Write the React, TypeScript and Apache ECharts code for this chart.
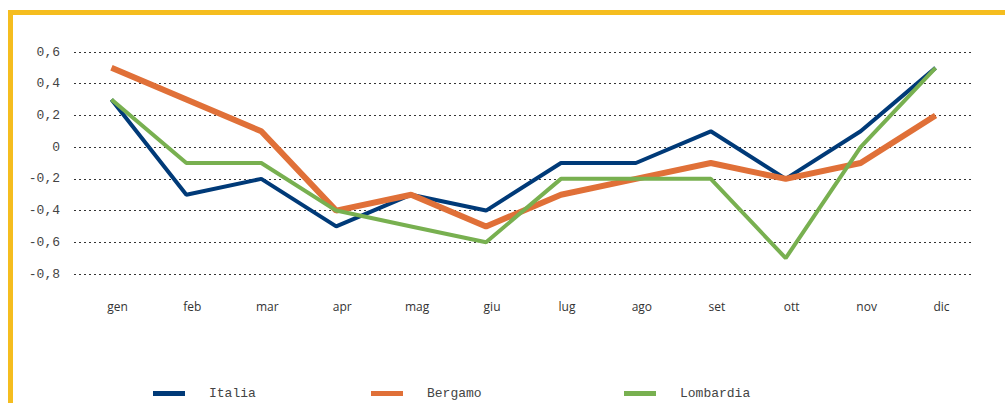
import React, { useEffect, useRef } from "react";
import * as echarts from "echarts";

const months = ["gen", "feb", "mar", "apr", "mag", "giu", "lug", "ago", "set", "ott", "nov", "dic"];
const italia = [0.3, -0.3, -0.2, -0.5, -0.3, -0.4, -0.1, -0.1, 0.1, -0.2, 0.1, 0.5];
const bergamo = [0.5, 0.3, 0.1, -0.4, -0.3, -0.5, -0.3, -0.2, -0.1, -0.2, -0.1, 0.2];
const lombardia = [0.3, -0.1, -0.1, -0.4, -0.5, -0.6, -0.2, -0.2, -0.2, -0.7, 0.0, 0.5];

const C_IT = "#003A78";
const C_BG = "#E07038";
const C_LO = "#78B050";
const YELLOW = "#F5BD1F";
const MONO = "'Liberation Mono', 'DejaVu Sans Mono', monospace";

export default function App() {
  const ref = useRef<HTMLDivElement>(null);
  useEffect(() => {
    if (!ref.current) return;
    const chart = echarts.init(ref.current, undefined, { renderer: "svg" });
    const mkLegend = (name: string, left: number) => ({
      data: [name],
      left,
      top: 387,
      padding: 0,
      icon: "rect",
      itemWidth: 32,
      itemHeight: 5,
      itemGap: 0,
      selectedMode: false,
      textStyle: { fontFamily: MONO, fontSize: 13, color: "#444", padding: [0, 0, 0, 19] },
    });
    chart.setOption({
      animation: false,
      backgroundColor: "#fff",
      grid: { left: 74, right: 32, top: 52, bottom: 129 },
      legend: [mkLegend("Italia", 153), mkLegend("Bergamo", 371), mkLegend("Lombardia", 624)],
      xAxis: {
        type: "category",
        data: months,
        boundaryGap: true,
        axisLine: { show: false },
        axisTick: { show: false },
        axisLabel: {
          margin: 26,
          padding: [0, 0, 0, 12],
          fontFamily: "'Open Sans', sans-serif",
          fontSize: 12,
          color: "#333",
        },
      },
      yAxis: {
        type: "value",
        min: -0.8,
        max: 0.6,
        interval: 0.2,
        axisLine: { show: false },
        axisTick: { show: false },
        axisLabel: {
          margin: 14,
          fontFamily: MONO,
          fontSize: 13,
          color: "#444",
          formatter: (v: number) => {
            const r = Math.round(v * 10) / 10;
            return r === 0 ? "0" : String(r).replace(".", ",");
          },
        },
        splitLine: { lineStyle: { color: "#333", type: [2, 3], width: 1 } },
      },
      series: [
        { name: "Italia", type: "line", data: italia, symbol: "none", color: C_IT, lineStyle: { width: 4, color: C_IT } },
        { name: "Bergamo", type: "line", data: bergamo, symbol: "none", color: C_BG, lineStyle: { width: 6, color: C_BG } },
        { name: "Lombardia", type: "line", data: lombardia, symbol: "none", color: C_LO, lineStyle: { width: 4, color: C_LO } },
      ],
      graphic: [
        { type: "rect", left: 8, top: 10, shape: { width: 997, height: 5 }, style: { fill: YELLOW }, silent: true },
        { type: "rect", left: 8, top: 10, shape: { width: 5, height: 393 }, style: { fill: YELLOW }, silent: true },
      ],
    });
    return () => chart.dispose();
  }, []);
  return <div ref={ref} style={{ position: "fixed", left: 0, top: 0, width: 1005, height: 403 }} />;
}
